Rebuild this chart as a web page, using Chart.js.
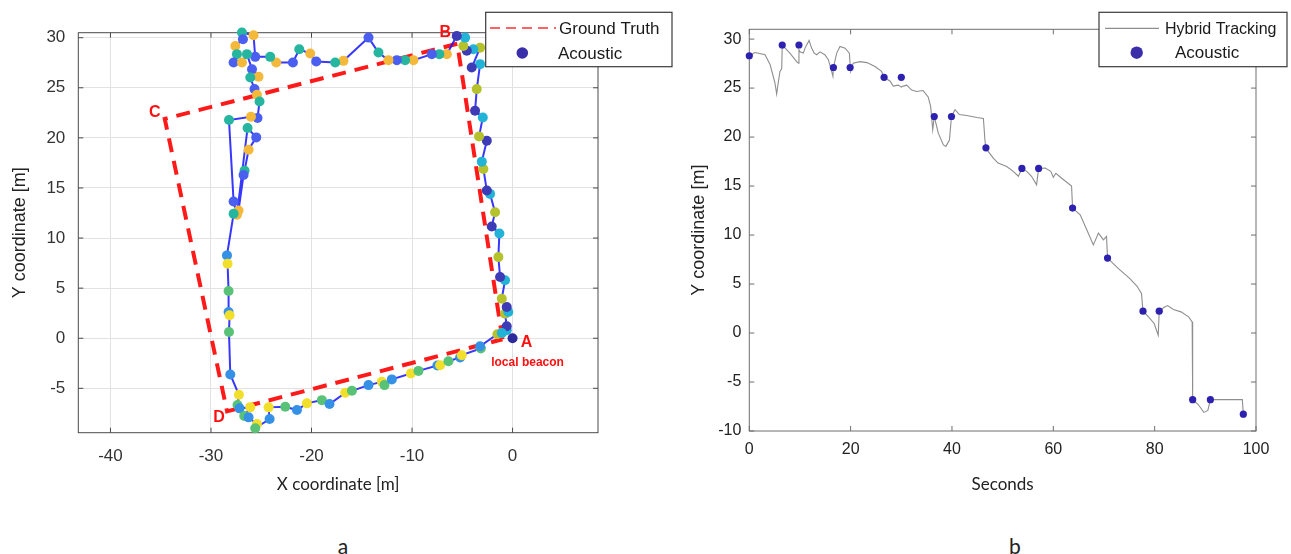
<!DOCTYPE html>
<html><head><meta charset="utf-8">
<script src="https://cdn.jsdelivr.net/npm/chart.js@4.4.0/dist/chart.umd.min.js"></script>
<style>
html,body{margin:0;padding:0;background:#fff;}
body{width:1291px;height:554px;position:relative;overflow:hidden;}
#ca{position:absolute;left:0;top:0;}
#cb{position:absolute;left:680px;top:0;}
.cap{position:absolute;font-family:Lato,sans-serif;font-size:21px;color:#222;transform:translate(-50%,-50%);}
</style></head><body>
<canvas id="ca" width="680" height="500"></canvas>
<canvas id="cb" width="611" height="500"></canvas>
<div class="cap" style="left:343px;top:545px">a</div>
<div class="cap" style="left:1015px;top:545px">b</div>
<script>
// ---------- chart a data ----------
const gtX = [-1.0, -5.5, -34.6, -28.4, -1.0];
const gtY = [-0.1, 29.4, 21.9, -7.3, -0.1];
const cornerNames = ['A', 'B', 'C', 'D'];
const beaconX = [0];
const beaconY = [0];
const trajX = [-1.07,-0.58,-0.58,-0.75,-0.42,-0.58,-1.07,-0.75,-1.24,-1.41,-1.31,-2.07,-1.74,-2.24,-2.56,-2.90,-3.06,-2.56,-3.33,-2.96,-3.73,-3.56,-3.23,-4.06,-3.23,-3.90,-4.55,-4.89,-4.72,-5.55,
  -6.54,-7.28,-8.03,-9.86,-10.69,-11.51,-12.35,-13.34,-14.33,-16.82,-17.64,-19.53,-20.13,-21.22,-21.85,-23.51,-24.11,-25.60,-25.77,-26.92,-26.82,-27.58,-27.42,-27.75,-26.92,-26.42,-25.92,-25.27,-26.09,-25.67,-25.43,-25.17,-25.37,-26.02,-28.21,
  -27.75,-27.42,-26.36,-25.50,-26.26,-26.66,-26.76,-27.26,-27.75,-28.41,-28.35,-28.25,-28.25,-28.15,-28.21,-28.08,-27.22,-27.36,-27.16,-26.09,-26.69,-26.26,-25.43,-25.60,-24.17,-24.27,
  -22.61,-21.45,-20.46,-18.97,-18.21,-16.65,-15.98,-14.33,-13.00,-12.74,-12.01,-10.12,-9.36,-7.48,-7.21,-6.38,-5.22,-5.05,-3.16,-3.23,-1.51,-1.07];
const trajY = [0.53,0.80,1.20,2.46,2.62,3.12,3.95,5.78,6.11,8.10,10.46,11.16,12.58,14.41,14.74,16.90,17.63,19.72,20.15,22.04,22.71,24.87,27.36,27.02,29.01,28.85,28.69,29.18,30.01,30.18,
  28.36,28.36,28.36,27.76,27.76,27.76,27.76,28.52,30.01,27.69,27.52,27.62,28.42,28.85,27.52,27.52,28.09,28.09,30.25,30.51,29.85,29.18,28.36,27.52,27.52,28.36,26.86,26.10,26.03,24.87,24.30,23.64,21.98,22.11,21.78,
  13.65,12.32,20.99,20.05,18.82,16.73,16.30,12.75,12.42,8.27,7.44,4.71,2.62,2.29,0.63,-3.62,-5.65,-6.67,-7.00,-6.90,-7.77,-7.90,-8.57,-8.99,-8.07,-6.90,
  -6.84,-7.17,-6.50,-6.18,-6.57,-5.45,-5.25,-4.68,-4.35,-4.68,-4.11,-3.52,-3.26,-2.72,-2.69,-2.29,-1.92,-1.69,-1.03,-0.80,0.40,0.53];
const xTicksA = [-40, -30, -20, -10, 0];
const yTicksA = [-5, 0, 5, 10, 15, 20, 25, 30];

// ---------- chart b data ----------
const tHybrid = [0,1.1,1.8,3.1,4.1,5.07,5.4,5.7,6.05,6.4,6.5,8.0,9.35,9.7,9.8,10.0,10.66,11.0,11.8,12.3,12.8,13.3,13.95,14.9,15.6,16.25,16.5,16.6,17.25,17.9,18.9,19.75,20.0,20.5,21.85,23.2,24.8,26.1,26.6,27.8,28.4,29.4,30.0,30.4,31.06,32.05,33.0,34.3,35.3,35.8,36.2,36.5,37.3,38.3,38.8,39.5,39.9,40.6,41.45,42.9,44.9,46.2,46.5,46.7,48.15,49.1,50.8,52.1,53.1,53.8,54.75,55.7,56.7,57.1,58.4,59.5,60.0,60.5,61.65,63.6,63.8,65.3,66.6,67.9,68.9,69.9,70.5,70.7,72.8,75.0,76.5,77.4,77.7,78.8,79.9,80.7,80.9,81.8,82.55,83.7,85.2,86.7,87.4,87.5,88.6,89.7,90.5,91.0,93.9,97.3,97.5];
const yHybrid = [28.3,28.63,28.56,28.4,27.4,25.5,24.4,25.5,26.7,27.0,29.4,28.57,27.7,27.55,28.9,28.7,28.57,29.08,29.86,29.08,28.57,28.4,28.7,28.4,27.9,26.7,26.2,27.1,28.57,29.25,29.08,28.57,26.7,27.55,27.7,27.6,27.2,26.7,26.1,25.7,25.2,25.3,25.1,25.2,25.3,24.8,24.65,24.75,24.1,23.1,20.75,22.1,20.4,19.2,19.05,19.7,22.1,22.8,22.3,22.2,22.0,21.9,19.7,18.84,17.85,17.35,17.0,16.5,16.0,16.8,16.5,16.0,15.13,16.8,16.84,16.5,15.9,16.3,15.8,15.0,12.75,12.07,10.54,9.0,10.2,9.5,9.86,7.65,6.6,5.6,4.8,4.05,2.23,1.65,0.97,-0.23,2.23,2.6,2.8,2.4,2.16,1.65,1.14,-6.8,-7.3,-8.1,-7.9,-6.8,-6.8,-6.8,-8.28];
const tAcoustic = [0,6.5,9.8,16.6,19.9,26.6,30.0,36.5,39.9,46.7,53.8,57.1,63.8,70.7,77.7,80.9,87.5,91.0,97.5];
const yAcoustic = [28.3,29.4,29.4,27.1,27.1,26.1,26.1,22.1,22.1,18.9,16.8,16.8,12.75,7.65,2.23,2.23,-6.8,-6.8,-8.28];
const xTicksB = [0, 20, 40, 60, 80, 100];
const yTicksB = [-10, -5, 0, 5, 10, 15, 20, 25, 30];

const pts = (xs, ys) => xs.map((x, i) => ({x: x, y: ys[i]}));

// colours of acoustic fixes (parula-like), chosen by side of the square
const palTop = ['#f4b93b', '#26b6a0', '#4a5ff0'];
const palRight = ['#b5c22c', '#22b3d6', '#3d3cb6'];
const palBottom = ['#f2df2b', '#58c276', '#3591e6'];
function trajColor(ctx) {
  const i = ctx.dataIndex;
  if (i === undefined) return '#3d3cb6';
  const x = trajX[i], y = trajY[i];
  const pal = (x > -6 && y > -0.6) ? palRight : (y < 9 ? palBottom : palTop);
  return pal[i % 3];
}

// frame + inward ticks
const framePlugin = {
  id: 'frame',
  beforeDatasetsDraw(chart, args, o) {
    const {ctx, chartArea: a, scales} = chart;
    ctx.save();
    ctx.strokeStyle = o.color; ctx.lineWidth = 1;
    ctx.strokeRect(a.left, a.top, a.right - a.left, a.bottom - a.top);
    const L = o.len;
    ctx.beginPath();
    scales.x.ticks.forEach(t => {
      const p = scales.x.getPixelForValue(t.value);
      ctx.moveTo(p, a.bottom); ctx.lineTo(p, a.bottom - L);
      ctx.moveTo(p, a.top); ctx.lineTo(p, a.top + L);
    });
    scales.y.ticks.forEach(t => {
      const p = scales.y.getPixelForValue(t.value);
      ctx.moveTo(a.left, p); ctx.lineTo(a.left + L, p);
      ctx.moveTo(a.right, p); ctx.lineTo(a.right - L, p);
    });
    ctx.stroke();
    ctx.restore();
  }
};

// boxed legend drawn over the plot
const boxLegend = {
  id: 'boxLegend',
  afterDraw(chart, args, o) {
    const ctx = chart.ctx;
    ctx.save();
    ctx.fillStyle = '#fff';
    ctx.fillRect(o.x0, o.y0, o.x1 - o.x0, o.y1 - o.y0);
    ctx.strokeStyle = '#3a3a3a'; ctx.lineWidth = 1.2;
    ctx.strokeRect(o.x0, o.y0, o.x1 - o.x0, o.y1 - o.y0);
    o.items.forEach(it => {
      const ds = chart.data.datasets[it.ds];
      if (it.kind === 'line') {
        ctx.beginPath();
        ctx.strokeStyle = it.color; ctx.lineWidth = it.width;
        ctx.setLineDash(it.dash || []);
        ctx.moveTo(it.sx0, it.y); ctx.lineTo(it.sx1, it.y); ctx.stroke();
        ctx.setLineDash([]);
      } else {
        ctx.beginPath(); ctx.fillStyle = it.color;
        ctx.arc(it.cx, it.y, it.r, 0, Math.PI * 2); ctx.fill();
      }
      ctx.fillStyle = '#1a1a1a';
      ctx.font = it.font;
      ctx.textBaseline = 'middle'; ctx.textAlign = 'left';
      ctx.fillText(ds.label, it.tx, it.y + 1);
    });
    ctx.restore();
  }
};

// corner letters of the ground truth
const cornerLabels = {
  id: 'cornerLabels',
  afterDatasetsDraw(chart, args, o) {
    const {ctx, scales: {x, y}} = chart;
    ctx.save();
    ctx.fillStyle = '#ff1010';
    ctx.textAlign = 'center'; ctx.textBaseline = 'middle';
    ctx.font = 'bold 16px "Liberation Sans", Arial, sans-serif';
    cornerNames.forEach((n, i) => {
      const off = o.offsets[i];
      ctx.fillText(n, x.getPixelForValue(gtX[i]) + off[0], y.getPixelForValue(gtY[i]) + off[1]);
    });
    ctx.font = 'bold 12px "Liberation Sans", Arial, sans-serif';
    ctx.fillText('local beacon', x.getPixelForValue(beaconX[0]) + 15, y.getPixelForValue(beaconY[0]) + 24);
    ctx.restore();
  }
};

const tickFontA = {family: '"Liberation Sans", Arial, sans-serif', size: 17};
const tickFontB = {family: '"Liberation Sans", Arial, sans-serif', size: 16};

new Chart(document.getElementById('ca'), {
  type: 'scatter',
  data: {datasets: [
    {label: 'Acoustic', data: pts(trajX, trajY), showLine: true, borderColor: 'rgba(20,20,255,0.85)', borderWidth: 2,
     pointRadius: 5, pointBorderWidth: 0, pointBackgroundColor: trajColor, pointHoverRadius: 5, clip: false, order: 1},
    {label: 'Ground Truth', data: pts(gtX, gtY), showLine: true, borderColor: '#ff1a1a', borderWidth: 4,
     borderDash: [14, 9], pointRadius: 0, order: 3},
    {label: 'beacon', data: pts(beaconX, beaconY), pointRadius: 5, pointBorderWidth: 0, pointBackgroundColor: '#2e2a9c', order: 0, clip: false}
  ]},
  options: {
    responsive: false, animation: false, devicePixelRatio: 1,
    layout: {padding: {top: 32.7, right: 82, left: 0, bottom: 0}},
    plugins: {
      legend: {display: false}, tooltip: {enabled: false},
      frame: {color: '#4a4a4a', len: 5},
      boxLegend: {x0: 485.7, y0: 12.3, x1: 672, y1: 66.7, items: [
        {ds: 1, kind: 'line', color: '#ff3030', width: 1.3, dash: [10, 6], sx0: 490, sx1: 556, y: 28, tx: 559, font: '17px "Liberation Sans", Arial, sans-serif'},
        {ds: 0, kind: 'dot', color: '#3a2fa8', r: 5.8, cx: 522.3, y: 53, tx: 558, font: '17px "Liberation Sans", Arial, sans-serif'}
      ]},
      cornerLabels: {offsets: [[24, 3], [-12, -11], [-10, -6], [-8, 6]]}
    },
    scales: {
      x: {type: 'linear', min: -43.2, max: 8.5,
        afterBuildTicks: s => { s.ticks = xTicksA.map(v => ({value: v})); },
        afterFit: s => { s.height = 67.3; },
        grid: {color: '#e2e2e2', drawTicks: false}, border: {display: false},
        ticks: {autoSkip: false, maxRotation: 0, padding: 13, color: '#333', font: tickFontA, callback: v => String(v)},
        title: {display: true, text: 'X coordinate [m]', color: '#222', font: {family: 'Lato, sans-serif', size: 17}, padding: {top: 0, bottom: 5}}},
      y: {type: 'linear', min: -9.43, max: 30.5,
        afterBuildTicks: s => { s.ticks = yTicksA.map(v => ({value: v})); },
        afterFit: s => { s.width = 78.3; },
        grid: {color: '#e2e2e2', drawTicks: false}, border: {display: false},
        ticks: {autoSkip: false, padding: 13, color: '#333', font: tickFontA, callback: v => String(v)},
        title: {display: true, text: 'Y coordinate [m]', color: '#222', font: {family: '"Liberation Sans", Arial, sans-serif', size: 18}, padding: {top: 9, bottom: 0}}}
    }
  },
  plugins: [framePlugin, cornerLabels, boxLegend]
});

new Chart(document.getElementById('cb'), {
  type: 'scatter',
  data: {datasets: [
    {label: 'Acoustic', data: pts(tAcoustic, yAcoustic), pointRadius: 3.6, pointBorderWidth: 0, pointBackgroundColor: '#2d21b0', order: 0, clip: false},
    {label: 'Hybrid Tracking', data: pts(tHybrid, yHybrid), showLine: true, borderColor: '#8e8e8e', borderWidth: 1.1, pointRadius: 0, order: 1}
  ]},
  options: {
    responsive: false, animation: false, devicePixelRatio: 1,
    layout: {padding: {top: 29.3, right: 35, left: 0, bottom: 0}},
    plugins: {
      legend: {display: false}, tooltip: {enabled: false},
      frame: {color: '#6e6e6e', len: 5},
      boxLegend: {x0: 419, y0: 12.3, x1: 607, y1: 66.7, items: [
        {ds: 1, kind: 'line', color: '#8e8e8e', width: 1.2, sx0: 425, sx1: 479, y: 28.3, tx: 485, font: '16px "Liberation Sans", Arial, sans-serif'},
        {ds: 0, kind: 'dot', color: '#3a2fa8', r: 6.2, cx: 456.7, y: 52.7, tx: 495, font: '17px "Liberation Sans", Arial, sans-serif'}
      ]}
    },
    scales: {
      x: {type: 'linear', min: 0, max: 100,
        afterBuildTicks: s => { s.ticks = xTicksB.map(v => ({value: v})); },
        afterFit: s => { s.height = 69; },
        grid: {display: false, drawTicks: false}, border: {display: false},
        ticks: {autoSkip: false, maxRotation: 0, padding: 9, color: '#222', font: tickFontB, callback: v => String(v)},
        title: {display: true, text: 'Seconds', color: '#222', font: {family: 'Lato, sans-serif', size: 17}, padding: {top: 0, bottom: 5}}},
      y: {type: 'linear', min: -10, max: 31,
        afterBuildTicks: s => { s.ticks = yTicksB.map(v => ({value: v})); },
        afterFit: s => { s.width = 69.3; },
        grid: {display: false, drawTicks: false}, border: {display: false},
        ticks: {autoSkip: false, padding: 8, color: '#222', font: tickFontB, callback: v => String(v)},
        title: {display: true, text: 'Y coordinate [m]', color: '#222', font: {family: '"Liberation Sans", Arial, sans-serif', size: 18}, padding: {top: 8, bottom: 0}}}
    }
  },
  plugins: [framePlugin, boxLegend]
});
</script></body></html>
